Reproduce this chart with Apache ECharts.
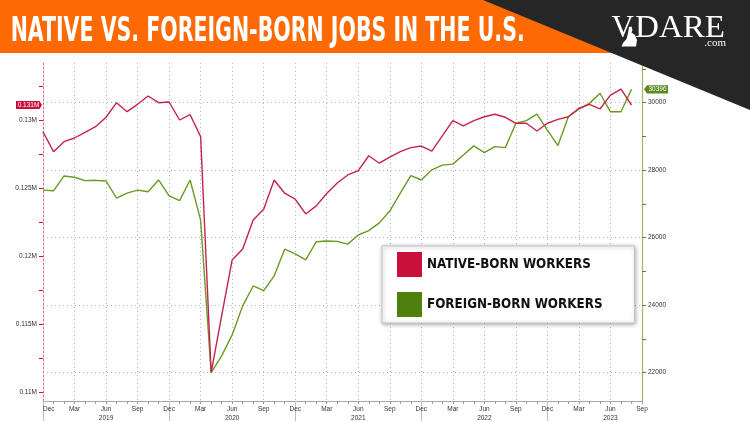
<!DOCTYPE html>
<html><head><meta charset="utf-8">
<script src="https://cdn.jsdelivr.net/npm/echarts@6/dist/echarts.min.js"></script>
<style>html,body{margin:0;padding:0;background:#fff}#c{width:750px;height:422px}</style>
</head><body><div id="c"></div>
<script>
// ---- data (thousands of persons) ----
const months = [
"2018-12",
"2019-01","2019-02","2019-03","2019-04","2019-05","2019-06","2019-07","2019-08","2019-09","2019-10","2019-11","2019-12",
"2020-01","2020-02","2020-03","2020-04","2020-05","2020-06","2020-07","2020-08","2020-09","2020-10","2020-11","2020-12",
"2021-01","2021-02","2021-03","2021-04","2021-05","2021-06","2021-07","2021-08","2021-09","2021-10","2021-11","2021-12",
"2022-01","2022-02","2022-03","2022-04","2022-05","2022-06","2022-07","2022-08","2022-09","2022-10","2022-11","2022-12",
"2023-01","2023-02","2023-03","2023-04","2023-05","2023-06","2023-07","2023-08","2023-09"];

const nativeBorn = [129140,127680,128410,128680,129100,129510,130200,131270,130610,131150,131760,131270,131320,
130000,130390,128780,111480,115630,119740,120540,122670,123450,125600,124630,124190,
123110,123700,124610,125380,125970,126280,127380,126830,127270,127680,127970,128090,
127710,128830,129950,129560,129950,130240,130420,130200,129760,129760,129190,129760,
130050,130240,130860,131150,130810,131830,132270,131100];

const foreignBorn = [27410,27390,27830,27790,27690,27700,27680,27170,27320,27410,27360,27710,27240,
27100,27710,26520,22000,22500,23120,23980,24570,24430,24870,25660,25520,
25340,25880,25900,25890,25810,26080,26210,26440,26790,27320,27840,27710,
28010,28150,28180,28450,28720,28520,28700,28670,29390,29470,29660,29190,
28730,29590,29810,29980,30280,29730,29730,30396];

const leftLabels = [110000,115000,120000,125000,130000];
const leftTicks = [110000,112500,115000,117500,120000,122500,125000,127500,130000,132500];
const rightLabels = [22000,24000,26000,28000,30000];
const rightMinorTicks = [23000,25000,27000,29000,31000];
const monthNames = {"03":"Mar","06":"Jun","09":"Sep","12":"Dec"};
const titleText = "NATIVE VS. FOREIGN-BORN JOBS IN THE U.S.";
const seriesNames = ["NATIVE-BORN WORKERS","FOREIGN-BORN WORKERS"];

// ---- layout helpers ----
const ctx = document.createElement('canvas').getContext('2d');
function tw(font, text){ ctx.font = font; return ctx.measureText(text).width; }
function hasFont(f){
  const s = 'FOREIGN-BORN WORKERS';
  return tw('20px monospace', s) !== tw('20px "' + f + '", monospace', s);
}
const legFamily = hasFont('Liberation Sans Narrow') ? 'Liberation Sans Narrow' : 'DejaVu Sans Condensed';
const legTextW = 176;
const legFS = Math.round(legTextW / tw('bold 100px "' + legFamily + '"', seriesNames[1]) * 1000) / 10;

const GT = 63, GB = 401;
const LMIN = 130000 - (GB - 120) * 73.34, LMAX = 130000 + (120 - GT) * 73.34;
const RMIN = 30000 - (GB - 102.7) * 29.63, RMAX = 30000 + (102.7 - GT) * 29.63;

const isQuarter = (i, v) => !!monthNames[v.slice(5)];
const labelFont = 'Liberation Sans';

const chart = echarts.init(document.getElementById('c'), null, {renderer:'canvas'});
chart.setOption({
  animation: false,
  backgroundColor: '#fff',
  grid: {left: 43, right: 108, top: GT, bottom: 422 - GB, containLabel: false, outerBoundsMode: 'none'},
  legend: {
    data: [
      {name: seriesNames[0], itemStyle: {color: '#c8103a', borderWidth: 0}},
      {name: seriesNames[1], itemStyle: {color: '#4e800b', borderWidth: 0}}
    ],
    orient: 'vertical', left: 382, top: 246,
    icon: 'rect', itemWidth: 25, itemHeight: 25, itemGap: 15,
    padding: [6, 208 - legTextW, 6, 15],
    backgroundColor: '#fff', borderColor: '#c4c4c4', borderWidth: 1,
    shadowBlur: 4, shadowColor: 'rgba(0,0,0,0.35)', shadowOffsetX: 1, shadowOffsetY: 1,
    selectedMode: false,
    textStyle: {fontFamily: legFamily, fontWeight: 'bold', fontSize: legFS, color: '#111'}
  },
  xAxis: [{
    type: 'category', data: months, boundaryGap: false,
    axisLine: {onZero: false, lineStyle: {color: '#a8a8a8', width: 1}},
    axisTick: {interval: 0, length: 3, lineStyle: {color: '#999'}},
    axisLabel: {
      interval: isQuarter, margin: 4, fontSize: 6.5, lineHeight: 9, color: '#333',
      fontFamily: labelFont, alignMinLabel: 'left',
      formatter: v => monthNames[v.slice(5)] + (v.slice(5) === '06' ? '\n' + v.slice(0, 4) : '')
    },
    splitLine: {show: true, interval: isQuarter, lineStyle: {color: '#b4b4b4', type: [1, 3], width: 1}}
  }, {
    type: 'category', data: months, boundaryGap: false, position: 'bottom',
    axisLine: {show: false},
    axisTick: {interval: (i, v) => v.slice(5) === '12', length: 20, lineStyle: {color: '#bdbdbd'}},
    axisLabel: {show: false}, splitLine: {show: false}
  }],
  yAxis: [{
    type: 'value', position: 'left', min: LMIN, max: LMAX, scale: true,
    axisLine: {show: true, lineStyle: {color: '#d8708c', type: [2, 2], width: 1}},
    axisTick: {show: true, customValues: leftTicks, length: 4, lineStyle: {color: '#c8103a'}},
    axisLabel: {customValues: leftLabels, margin: 6, fontSize: 6.5, color: '#333', fontFamily: labelFont,
      formatter: v => parseFloat((v / 1e6).toFixed(4)) + 'M'},
    splitLine: {show: false}
  }, {
    type: 'value', position: 'right', min: RMIN, max: RMAX, scale: true,
    axisLine: {show: true, lineStyle: {color: '#a3b56a', width: 1.2}},
    axisTick: {show: true, customValues: rightLabels, length: 4, lineStyle: {color: '#5a8a1c'}},
    axisLabel: {customValues: rightLabels, margin: 6, fontSize: 6.5, color: '#333', fontFamily: labelFont,
      formatter: v => String(Math.round(v))},
    splitLine: {show: true, lineStyle: {color: '#b4b4b4', type: [1, 3], width: 1}}
  }, {
    type: 'value', position: 'right', min: RMIN, max: RMAX, scale: true,
    axisLine: {show: false},
    axisTick: {show: true, customValues: rightMinorTicks, length: 4, lineStyle: {color: '#5a8a1c'}},
    axisLabel: {show: false}, splitLine: {show: false}
  }],
  series: [{
    name: seriesNames[0], type: 'line', data: nativeBorn, xAxisIndex: 0, yAxisIndex: 0,
    symbol: 'none', showSymbol: false, z: 3,
    lineStyle: {color: '#c2244e', width: 1.4}, itemStyle: {color: '#c8103a'}
  }, {
    name: seriesNames[1], type: 'line', data: foreignBorn, xAxisIndex: 0, yAxisIndex: 1,
    symbol: 'none', showSymbol: false, z: 2,
    lineStyle: {color: '#6a9a24', width: 1.4}, itemStyle: {color: '#4e800b'}
  }]
});

// ---- header graphics and last-value tags ----
const titleFont = 'bold 34px "DejaVu Sans Condensed"';
const titleScale = 514 / tw(titleFont, titleText);
const vFont = '31px "Liberation Serif"';
const dareScale = 90 / tw(vFont, 'DARE');

const lastN = nativeBorn[nativeBorn.length - 1];
const lastF = foreignBorn[foreignBorn.length - 1];
const yN = chart.convertToPixel({yAxisIndex: 0}, lastN);
const yF = chart.convertToPixel({yAxisIndex: 1}, lastF);

chart.setOption({graphic: {elements: [
  {type: 'rect', z: 100, shape: {x: 0, y: 0, width: 750, height: 53}, style: {fill: '#fd6a03'}},
  {type: 'polygon', z: 101, shape: {points: [[483, 0], [750, 0], [750, 110]]}, style: {fill: '#262626'}},
  {type: 'text', z: 102, x: 10.7, y: 32.5, scaleX: titleScale,
    style: {text: titleText, font: titleFont, fill: '#fff', align: 'left', verticalAlign: 'middle'}},
  {type: 'text', z: 102, x: 611.5, y: 28.5,
    style: {text: 'V', font: vFont, fill: '#fff', align: 'left', verticalAlign: 'middle'}},
  {type: 'polygon', z: 103, shape: {points: [[629,27],[631.5,26.5],[632.5,30],[631.5,32.5],[635,35],[637,40],[636,46.5],[621.5,46.5],[623,43],[626.5,39],[628,33]]}, style: {fill: '#fff'}},
  {type: 'text', z: 102, x: 635, y: 28.5, scaleX: dareScale,
    style: {text: 'DARE', font: vFont, fill: '#fff', align: 'left', verticalAlign: 'middle'}},
  {type: 'text', z: 102, x: 726, y: 43.5,
    style: {text: '.com', font: '11px "Liberation Serif"', fill: '#fff', align: 'right', verticalAlign: 'middle'}},
  {type: 'polygon', z: 50, shape: {points: [[16, yN - 4], [39.5, yN - 4], [42, yN], [39.5, yN + 4], [16, yN + 4]]}, style: {fill: '#c8103a'}},
  {type: 'text', z: 51, x: 28.5, y: yN,
    style: {text: (lastN / 1e6).toFixed(3) + 'M', font: '6.5px "Liberation Sans"', fill: '#fff', align: 'center', verticalAlign: 'middle'}},
  {type: 'polygon', z: 50, shape: {points: [[644, yF], [647, yF - 4.2], [668, yF - 4.2], [668, yF + 4.2], [647, yF + 4.2]]}, style: {fill: '#5a8a1c'}},
  {type: 'text', z: 51, x: 657.5, y: yF,
    style: {text: String(lastF), font: '6.5px "Liberation Sans"', fill: '#fff', align: 'center', verticalAlign: 'middle'}}
]}});
</script></body></html>
